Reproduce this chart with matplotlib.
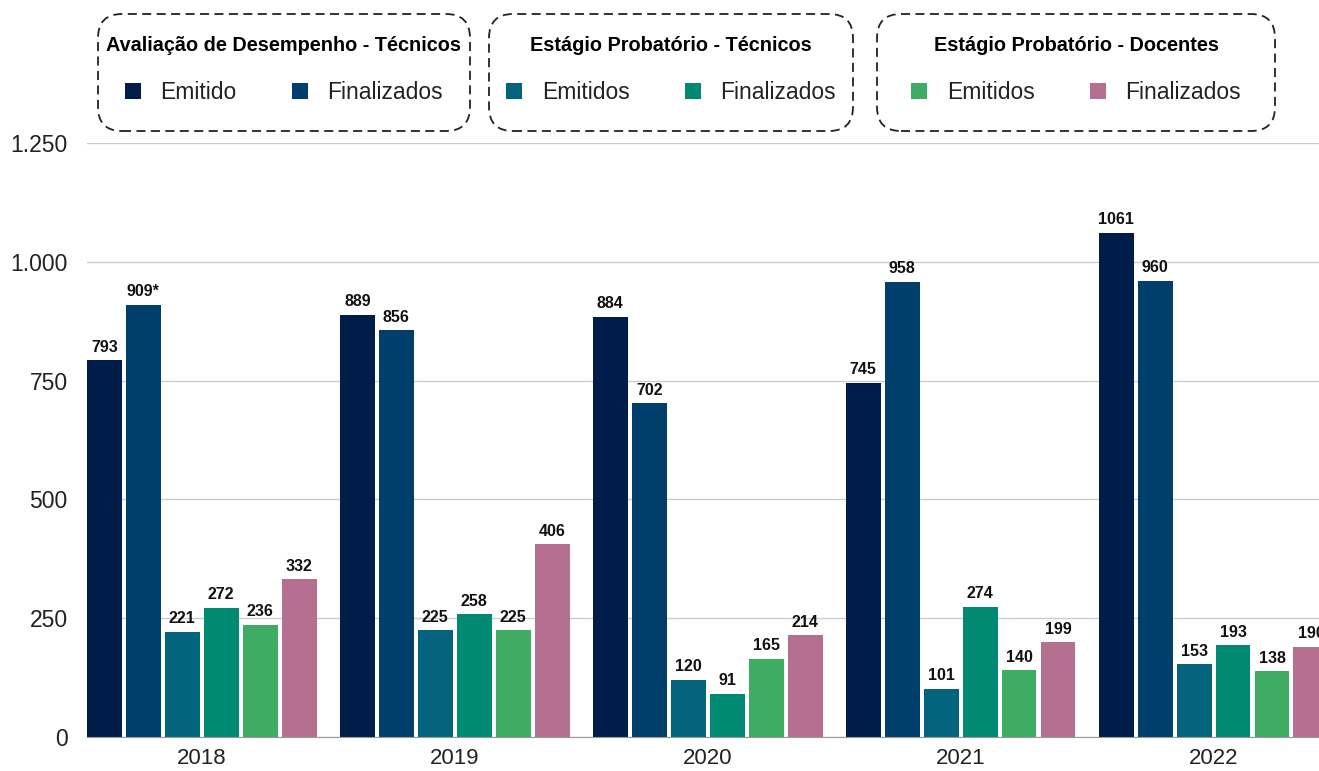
import numpy as np
import matplotlib.pyplot as plt
from matplotlib.patches import Patch, FancyBboxPatch
from matplotlib.transforms import IdentityTransform

# Data
years = ['2018', '2019', '2020', '2021', '2022']
aval_emitido = [793, 889, 884, 745, 1061]
aval_finalizados = [909, 856, 702, 958, 960]
ept_emitidos = [221, 225, 120, 101, 153]
ept_finalizados = [272, 258, 91, 274, 193]
epd_emitidos = [236, 225, 165, 140, 138]
epd_finalizados = [332, 406, 214, 199, 190]
aval_finalizados_labels = ['909*', '856', '702', '958', '960']

series = [aval_emitido, aval_finalizados, ept_emitidos, ept_finalizados, epd_emitidos, epd_finalizados]
colors = ['#001d4a', '#003e6b', '#04647e', '#008a74', '#3eac62', '#b56f90']
legend_groups = [
    ('Avaliação de Desempenho - Técnicos', ['Emitido', 'Finalizados'], colors[0:2]),
    ('Estágio Probatório - Técnicos', ['Emitidos', 'Finalizados'], colors[2:4]),
    ('Estágio Probatório - Docentes', ['Emitidos', 'Finalizados'], colors[4:6]),
]

plt.rcParams['font.family'] = ['Liberation Sans', 'DejaVu Sans']

W, H = 1319, 771
fig = plt.figure(figsize=(W / 100, H / 100), dpi=100)
ax = fig.add_axes([87 / W, (H - 737) / H, 1 - 87 / W, (737 - 143) / H])

x = np.arange(len(years))
step = 0.154
width = 0.138
for j, vals in enumerate(series):
    bars = ax.bar(x + (j - 2.5) * step, vals, width=width, color=colors[j], zorder=3)
    labels = aval_finalizados_labels if j == 1 else [str(v) for v in vals]
    ax.bar_label(bars, labels=labels, padding=4, fontsize=11.5, fontweight='bold', color='#111111')

ax.set_xlim(-2.5 * step - width / 2, (1319 - 201.5) / 253)
ax.set_ylim(0, 1250)
ax.set_yticks([0, 250, 500, 750, 1000, 1250])
ax.set_yticklabels(['0', '250', '500', '750', '1.000', '1.250'])
ax.set_xticks(x)
ax.set_xticklabels(years)
ax.tick_params(axis='both', length=0, labelsize=16.5, colors='#222222')
ax.tick_params(axis='y', pad=14)
ax.tick_params(axis='x', pad=8, labelsize=16)
ax.grid(axis='y', color='#cccccc', linewidth=1, zorder=0)
for s in ['top', 'right', 'left']:
    ax.spines[s].set_visible(False)
ax.spines['bottom'].set_color('#999999')
ax.spines['bottom'].set_zorder(4)

# Dashed rounded boxes behind the three legends (pixel coordinates)
boxes = [(98, 14, 470, 131), (489, 14, 853, 131), (877, 14, 1275, 131)]
for (x0, y0, x1, y1), (title, names, cols) in zip(boxes, legend_groups):
    fig.patches.append(FancyBboxPatch((x0, H - y1), x1 - x0, y1 - y0,
                                      boxstyle='round,pad=0,rounding_size=24',
                                      transform=IdentityTransform(), fill=False,
                                      edgecolor='#222222', linewidth=1.3,
                                      linestyle=(0, (5, 3)), figure=fig))
    handles = [Patch(facecolor=c, edgecolor='none') for c in cols]
    leg = fig.legend(handles, names, title=title, ncol=2, frameon=False,
                     loc='center', bbox_to_anchor=((x0 + x1) / 2 / W, (H - 70) / H),
                     fontsize=16.5, handlelength=0.7, handleheight=0.7,
                     handletextpad=0.85, columnspacing=2.4, labelspacing=1.15,
                     title_fontproperties={'weight': 'bold', 'size': 14.3})
    for t in leg.get_texts():
        t.set_color('#222222')

fig.savefig('out.png', dpi=100)
